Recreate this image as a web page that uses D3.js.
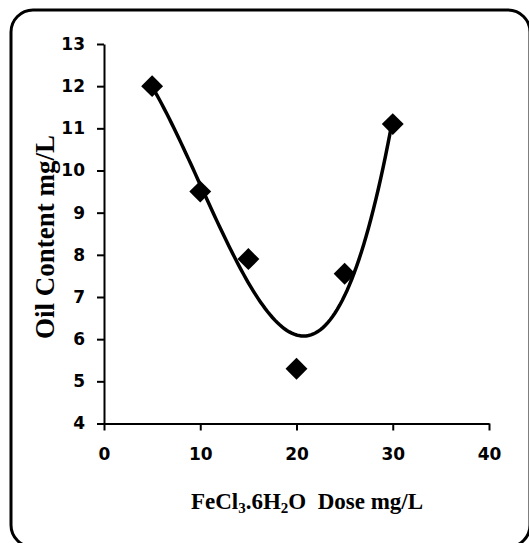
<!DOCTYPE html>
<html>
<head>
<meta charset="utf-8">
<script src="https://cdn.jsdelivr.net/npm/d3@7"></script>
<style>
  body { margin: 0; background: #fff; }
  .tick text { font-family: "DejaVu Sans", sans-serif; font-weight: bold; font-size: 17px; fill: #000; }
  .ttl { font-family: "Liberation Serif", "Times New Roman", serif; font-weight: bold; fill: #000; }
</style>
</head>
<body>
<div id="graph"></div>
<script>
// dose (mg/L) and oil content (mg/L)
const dose = [5, 10, 15, 20, 25, 30];
const oil = [12, 9.5, 7.9, 5.3, 7.55, 11.1];
const xTicks = [0, 10, 20, 30, 40];
const yTicks = [4, 5, 6, 7, 8, 9, 10, 11, 12, 13];

const w = 529, h = 543;
const svg = d3.select("#graph").append("svg")
    .attr("width", w)
    .attr("height", h);

// rounded frame
svg.append("rect")
    .attr("x", 11).attr("y", 10)
    .attr("width", 519).attr("height", 537)
    .attr("rx", 22)
    .attr("fill", "none")
    .attr("stroke", "#000")
    .attr("stroke-width", 3);

const x = d3.scaleLinear().domain([0, 40]).range([104, 489]);
const y = d3.scaleLinear().domain([4, 13]).range([423.5, 44]);

const xAxis = svg.append("g")
    .attr("transform", "translate(0," + y(4) + ")")
    .call(d3.axisBottom(x).tickValues(xTicks).tickSize(7).tickSizeOuter(0).tickPadding(17));
const yAxis = svg.append("g")
    .attr("transform", "translate(" + x(0) + ",0)")
    .call(d3.axisLeft(y).tickValues(yTicks).tickSize(7).tickSizeOuter(0).tickPadding(12));

[xAxis, yAxis].forEach(g => {
    g.select(".domain").attr("stroke", "#000").attr("stroke-width", 2);
    g.selectAll(".tick line").attr("stroke", "#000").attr("stroke-width", 2);
});

// cubic least-squares trendline from the data points
function polyfit(xs, ys, order) {
    const n = order + 1;
    const A = [];
    for (let r = 0; r < n; r++) {
        A.push([]);
        for (let c = 0; c < n; c++) A[r].push(d3.sum(xs, v => Math.pow(v, r + c)));
        A[r].push(d3.sum(xs, (v, i) => Math.pow(v, r) * ys[i]));
    }
    for (let i = 0; i < n; i++) {
        let p = i;
        for (let k = i + 1; k < n; k++) if (Math.abs(A[k][i]) > Math.abs(A[p][i])) p = k;
        [A[i], A[p]] = [A[p], A[i]];
        for (let k = i + 1; k < n; k++) {
            const f = A[k][i] / A[i][i];
            for (let j = i; j <= n; j++) A[k][j] -= f * A[i][j];
        }
    }
    const c = new Array(n).fill(0);
    for (let i = n - 1; i >= 0; i--) {
        let s = A[i][n];
        for (let j = i + 1; j < n; j++) s -= A[i][j] * c[j];
        c[i] = s / A[i][i];
    }
    return c;
}
const coef = polyfit(dose, oil, 3);
const fit = v => coef.reduce((s, c, i) => s + c * Math.pow(v, i), 0);
const xs = d3.range(d3.min(dose), d3.max(dose) + 0.001, 0.25);

svg.append("path")
    .datum(xs)
    .attr("fill", "none")
    .attr("stroke", "#000")
    .attr("stroke-width", 3.5)
    .attr("d", d3.line().x(d => x(d)).y(d => y(fit(d))));

svg.selectAll(".pt")
    .data(dose)
    .enter()
    .append("path")
    .attr("class", "pt")
    .attr("d", d3.symbol(d3.symbolSquare, 240))
    .attr("transform", (d, i) => "translate(" + x(d) + "," + y(oil[i]) + ") rotate(45)")
    .attr("fill", "#000");

// axis titles
const xt = svg.append("text")
    .attr("class", "ttl")
    .attr("x", 307).attr("y", 509)
    .attr("text-anchor", "middle")
    .style("font-size", "23px");
xt.append("tspan").text("FeCl");
xt.append("tspan").attr("dy", 4).style("font-size", "15px").text("3");
xt.append("tspan").attr("dy", -4).text(".6H");
xt.append("tspan").attr("dy", 4).style("font-size", "15px").text("2");
xt.append("tspan").attr("dy", -4).text("O\u00a0\u00a0Dose mg/L");

svg.append("text")
    .attr("class", "ttl")
    .attr("transform", "translate(54,237) rotate(-90)")
    .attr("text-anchor", "middle")
    .style("font-size", "27px")
    .text("Oil Content mg/L");
</script>
</body>
</html>
